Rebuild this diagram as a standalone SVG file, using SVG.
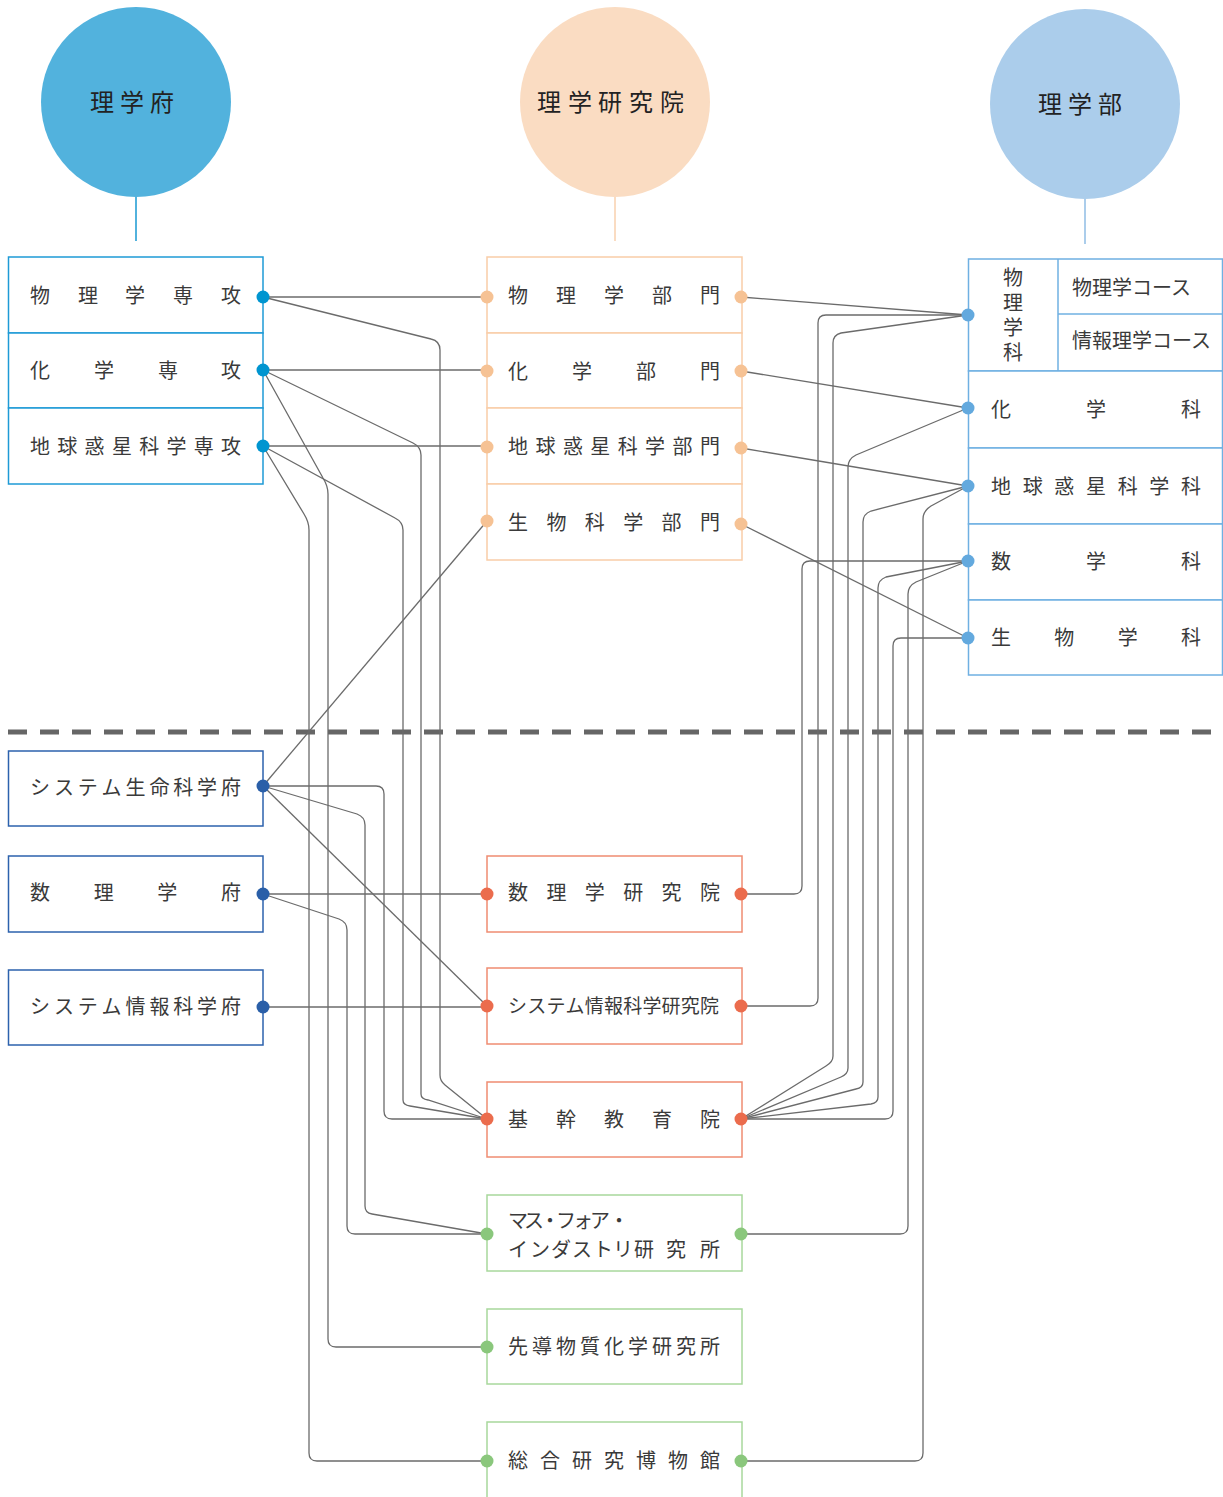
<svg xmlns="http://www.w3.org/2000/svg" width="1223" height="1497" viewBox="0 0 1223 1497">
<style>
text{font-family:"Noto Sans CJK JP","Noto Sans CJK SC",sans-serif;fill:#3a3a3a;font-size:20px;dominant-baseline:central;font-weight:400}
.title{font-size:24px;fill:#222}
.box{fill:#fff;stroke-width:1.5}
.b1{stroke:#1e9ad6}.b2{stroke:#f9cda8}.b3{stroke:#6fb0e2}.b4{stroke:#2c62ad}.b5{stroke:#ef8c72}.b6{stroke:#a8d89c}
.d1{fill:#0095d0}.d2{fill:#f6c294}.d3{fill:#63a9de}.d4{fill:#2a5fa8}.d5{fill:#eb6c4d}.d6{fill:#8ac77c}
.conn path{fill:none;stroke:#6b6b6b;stroke-width:1.3}
</style>
<rect width="1223" height="1497" fill="#fff"/>

<!-- header circles -->
<g id="rigakufu">
<circle cx="136" cy="102" r="95" fill="#52b2dd"/>
<line x1="136" y1="196" x2="136" y2="241" stroke="#52b2dd" stroke-width="2"/>
<text class="title" x="90 120 150" y="100">理学府</text>
</g>
<g id="rigaku-kenkyuin">
<circle cx="615" cy="102" r="95" fill="#fadcc2"/>
<line x1="615" y1="196" x2="615" y2="241" stroke="#fadcc2" stroke-width="2"/>
<text class="title" x="537 568 598 629 660" y="100">理学研究院</text>
</g>
<g id="rigakubu">
<circle cx="1085" cy="104" r="95" fill="#abcdeb"/>
<line x1="1085" y1="198" x2="1085" y2="244" stroke="#abcdeb" stroke-width="2"/>
<text class="title" x="1038 1068 1098" y="102">理学部</text>
</g>

<!-- dashed separator -->
<line x1="8" y1="732" x2="1213" y2="732" stroke="#666" stroke-width="5" stroke-dasharray="19 13"/>

<!-- connectors -->
<g class="conn" id="connectors">
<path d="M263,297 H487"/>
<path d="M263,297 L431,339 Q440,341 440,350 V1075 Q440,1081 445,1085 L487,1119"/>
<path d="M263,370 H487"/>
<path d="M263,370 L413,443 Q421,447 421,455 V1094 Q421,1099 428,1100 L487,1119"/>
<path d="M263,370 L323,478 Q328,486 328,494 V1339 Q328,1347 336,1347 H487"/>
<path d="M263,446 H487"/>
<path d="M263,446 L395,518 Q403,522 403,530 V1100 Q403,1105 410,1106 L487,1119"/>
<path d="M263,446 L304,514 Q309,522 309,530 V1453 Q309,1461 317,1461 H487"/>
<path d="M263,786 L487,521"/>
<path d="M263,786 H376 Q384,786 384,794 V1111 Q384,1119 392,1119 H487"/>
<path d="M263,786 L357,814 Q365,817 365,825 V1206 Q365,1213 372,1214 L487,1234"/>
<path d="M263,786 L487,1006"/>
<path d="M263,894 H487"/>
<path d="M263,894 L339,919 Q347,922 347,930 V1226 Q347,1234 355,1234 H487"/>
<path d="M263,1007 H487"/>

<path d="M741,297 L968,315"/>
<path d="M741,371 L968,408"/>
<path d="M741,448 L968,486"/>
<path d="M741,524 L968,638"/>
<path d="M968,315 L826,315 Q818,315 818,323 V998 Q818,1006 810,1006 H741"/>
<path d="M968,315 L841,333 Q833,335 833,343 V1056 Q833,1062 826,1066 L741,1119"/>
<path d="M968,408 L856,455 Q848,459 848,467 V1068 Q848,1074 841,1077 L741,1119"/>
<path d="M968,486 L871,511 Q863,514 863,522 V1082 Q863,1088 856,1089 L741,1119"/>
<path d="M968,486 L931,506 Q923,511 923,519 V1453 Q923,1461 915,1461 H741"/>
<path d="M968,561 H810 Q802,561 802,569 V886 Q802,894 794,894 H741"/>
<path d="M968,561 L886,577 Q878,580 878,588 V1097 Q878,1103 871,1104 L741,1119"/>
<path d="M968,561 L916,582 Q908,586 908,594 V1226 Q908,1234 900,1234 H741"/>
<path d="M968,638 H901 Q893,638 893,646 V1111 Q893,1119 885,1119 H741"/>
</g>

<!-- 理学府 専攻 -->
<g id="butsuri-senkou">
<rect class="box b1" x="8.5" y="257" width="254.5" height="76"/>
<text x="30 78 125 173 221" y="294">物理学専攻</text>
<circle class="d1" cx="263" cy="297" r="6.5"/>
</g>
<g id="kagaku-senkou">
<rect class="box b1" x="8.5" y="333" width="254.5" height="75"/>
<text x="30 94 158 221" y="369">化学専攻</text>
<circle class="d1" cx="263" cy="370" r="6.5"/>
</g>
<g id="chikyu-senkou">
<rect class="box b1" x="8.5" y="408" width="254.5" height="76"/>
<text x="30 57.3 84.6 111.9 139.2 166.5 193.8 221" y="445">地球惑星科学専攻</text>
<circle class="d1" cx="263" cy="446" r="6.5"/>
</g>

<!-- 理学研究院 部門 -->
<g id="butsuri-bumon">
<rect class="box b2" x="487" y="257" width="255" height="76"/>
<text x="508 556 604 652 700" y="294">物理学部門</text>
<circle class="d2" cx="487" cy="297" r="6.5"/>
<circle class="d2" cx="741" cy="297" r="6.5"/>
</g>
<g id="kagaku-bumon">
<rect class="box b2" x="487" y="333" width="255" height="75"/>
<text x="508 572 636 700" y="370">化学部門</text>
<circle class="d2" cx="487" cy="371" r="6.5"/>
<circle class="d2" cx="741" cy="371" r="6.5"/>
</g>
<g id="chikyu-bumon">
<rect class="box b2" x="487" y="408" width="255" height="76"/>
<text x="508 535.4 562.9 590.3 617.7 645.1 672.6 700" y="445">地球惑星科学部門</text>
<circle class="d2" cx="487" cy="447" r="6.5"/>
<circle class="d2" cx="741" cy="448" r="6.5"/>
</g>
<g id="seibutsu-bumon">
<rect class="box b2" x="487" y="484" width="255" height="76"/>
<text x="508 546.4 584.8 623.2 661.6 700" y="521">生物科学部門</text>
<circle class="d2" cx="487" cy="521" r="6.5"/>
<circle class="d2" cx="741" cy="524" r="6.5"/>
</g>

<!-- 理学部 学科 -->
<g id="butsuri-gakka">
<rect class="box b3" x="968.5" y="259" width="254" height="112"/>
<line class="b3" x1="1058" y1="259" x2="1058" y2="371" stroke-width="1.5"/>
<line class="b3" x1="1058" y1="314" x2="1223" y2="314" stroke-width="1.5"/>
<text x="1013" y="267" style="writing-mode:vertical-rl;dominant-baseline:auto" letter-spacing="5">物理学科</text>
<text x="1072" y="286">物理学コース</text>
<text x="1072" y="339">情報理学コース</text>
<circle class="d3" cx="968" cy="315" r="6.5"/>
</g>
<g id="kagaku-gakka">
<rect class="box b3" x="968.5" y="371" width="254" height="77"/>
<text x="991 1086 1181" y="408">化学科</text>
<circle class="d3" cx="968" cy="408" r="6.5"/>
</g>
<g id="chikyu-gakka">
<rect class="box b3" x="968.5" y="448" width="254" height="76"/>
<text x="991 1022.7 1054.3 1086 1117.7 1149.3 1181" y="485">地球惑星科学科</text>
<circle class="d3" cx="968" cy="486" r="6.5"/>
</g>
<g id="sugaku-gakka">
<rect class="box b3" x="968.5" y="524" width="254" height="76"/>
<text x="991 1086 1181" y="560">数学科</text>
<circle class="d3" cx="968" cy="561" r="6.5"/>
</g>
<g id="seibutsu-gakka">
<rect class="box b3" x="968.5" y="600" width="254" height="75"/>
<text x="991 1054.3 1117.7 1181" y="636">生物学科</text>
<circle class="d3" cx="968" cy="638" r="6.5"/>
</g>

<!-- lower left 学府 -->
<g id="system-seimei">
<rect class="box b4" x="8.5" y="751" width="254.5" height="75"/>
<text x="30 53.9 77.8 101.6 125.5 149.4 173.3 197.1 221" y="786">システム生命科学府</text>
<circle class="d4" cx="263" cy="786" r="6.5"/>
</g>
<g id="suri-gakufu">
<rect class="box b4" x="8.5" y="856" width="254.5" height="76"/>
<text x="30 93.7 157.3 221" y="891">数理学府</text>
<circle class="d4" cx="263" cy="894" r="6.5"/>
</g>
<g id="system-joho">
<rect class="box b4" x="8.5" y="970" width="254.5" height="75"/>
<text x="30 53.9 77.8 101.6 125.5 149.4 173.3 197.1 221" y="1005">システム情報科学府</text>
<circle class="d4" cx="263" cy="1007" r="6.5"/>
</g>

<!-- 研究院 -->
<g id="suri-kenkyuin">
<rect class="box b5" x="487" y="856" width="255" height="76"/>
<text x="508 546.4 584.8 623.2 661.6 700" y="891">数理学研究院</text>
<circle class="d5" cx="487" cy="894" r="6.5"/>
<circle class="d5" cx="741" cy="894" r="6.5"/>
</g>
<g id="system-joho-kenkyuin">
<rect class="box b5" x="487" y="968" width="255" height="76"/>
<text style="font-size:19px" x="508 527.2 546.4 565.6 584.8 604 623.2 642.4 661.6 680.8 700" y="1004">システム情報科学研究院</text>
<circle class="d5" cx="487" cy="1006" r="6.5"/>
<circle class="d5" cx="741" cy="1006" r="6.5"/>
</g>
<g id="kikan-kyoikuin">
<rect class="box b5" x="487" y="1082" width="255" height="75"/>
<text x="508 556 604 652 700" y="1118">基幹教育院</text>
<circle class="d5" cx="487" cy="1119" r="6.5"/>
<circle class="d5" cx="741" cy="1119" r="6.5"/>
</g>

<!-- 研究所 -->
<g id="imi">
<rect class="box b6" x="487" y="1195" width="255" height="76"/>
<text x="508 524 540 556 573 590 609" y="1219">マス・フォア・</text>
<text x="508 530 551 572 593 613 634 666 700" y="1248">インダストリ研究所</text>
<circle class="d6" cx="487" cy="1234" r="6.5"/>
<circle class="d6" cx="741" cy="1234" r="6.5"/>
</g>
<g id="sendou">
<rect class="box b6" x="487" y="1309" width="255" height="75"/>
<text x="508 532 556 580 604 628 652 676 700" y="1345">先導物質化学研究所</text>
<circle class="d6" cx="487" cy="1347" r="6.5"/>
</g>
<g id="museum">
<rect class="box b6" x="487" y="1422" width="255" height="100"/>
<text x="508 540 572 604 636 668 700" y="1459">総合研究博物館</text>
<circle class="d6" cx="487" cy="1461" r="6.5"/>
<circle class="d6" cx="741" cy="1461" r="6.5"/>
</g>
</svg>
